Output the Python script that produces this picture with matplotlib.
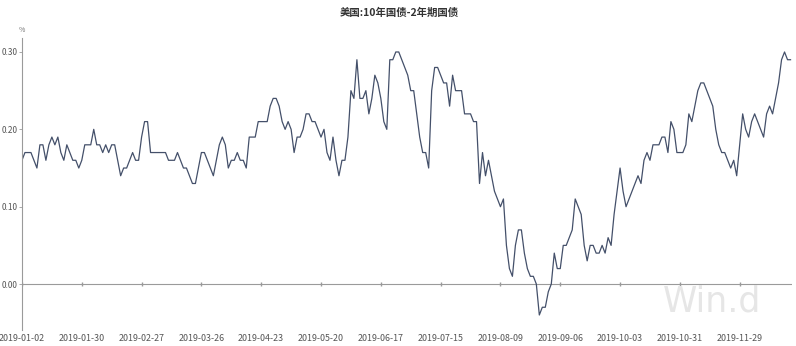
import numpy as np
import matplotlib
matplotlib.use('Agg')
from matplotlib import pyplot as plt

plt.rcParams['font.family'] = ['Noto Sans CJK SC', 'DejaVu Sans']

title = '美国:10年国债-2年期国债'

# spread values (%), one per trading day
spread = [
    0.16, 0.17, 0.17, 0.17, 0.16, 0.15, 0.18, 0.18, 0.16, 0.18,
    0.19, 0.18, 0.19, 0.17, 0.16, 0.18, 0.17, 0.16, 0.16, 0.15,
    0.16, 0.18, 0.18, 0.18, 0.20, 0.18, 0.18, 0.17, 0.18, 0.17,
    0.18, 0.18, 0.16, 0.14, 0.15, 0.15, 0.16, 0.17, 0.16, 0.16,
    0.19, 0.21, 0.21, 0.17, 0.17, 0.17, 0.17, 0.17, 0.17, 0.16,
    0.16, 0.16, 0.17, 0.16, 0.15, 0.15, 0.14, 0.13, 0.13, 0.15,
    0.17, 0.17, 0.16, 0.15, 0.14, 0.16, 0.18, 0.19, 0.18, 0.15,
    0.16, 0.16, 0.17, 0.16, 0.16, 0.15, 0.19, 0.19, 0.19, 0.21,
    0.21, 0.21, 0.21, 0.23, 0.24, 0.24, 0.23, 0.21, 0.20, 0.21,
    0.20, 0.17, 0.19, 0.19, 0.20, 0.22, 0.22, 0.21, 0.21, 0.20,
    0.19, 0.20, 0.17, 0.16, 0.19, 0.16, 0.14, 0.16, 0.16, 0.19,
    0.25, 0.24, 0.29, 0.24, 0.24, 0.25, 0.22, 0.24, 0.27, 0.26,
    0.24, 0.21, 0.20, 0.29, 0.29, 0.30, 0.30, 0.29, 0.28, 0.27,
    0.25, 0.25, 0.22, 0.19, 0.17, 0.17, 0.15, 0.25, 0.28, 0.28,
    0.27, 0.26, 0.26, 0.23, 0.27, 0.25, 0.25, 0.25, 0.22, 0.22,
    0.22, 0.21, 0.21, 0.13, 0.17, 0.14, 0.16, 0.14, 0.12, 0.11,
    0.10, 0.11, 0.05, 0.02, 0.01, 0.05, 0.07, 0.07, 0.04, 0.02,
    0.01, 0.01, 0.00, -0.04, -0.03, -0.03, -0.01, 0.00, 0.04, 0.02,
    0.02, 0.05, 0.05, 0.06, 0.07, 0.11, 0.10, 0.09, 0.05, 0.03,
    0.05, 0.05, 0.04, 0.04, 0.05, 0.04, 0.06, 0.05, 0.09, 0.12,
    0.15, 0.12, 0.10, 0.11, 0.12, 0.13, 0.14, 0.13, 0.16, 0.17,
    0.16, 0.18, 0.18, 0.18, 0.19, 0.19, 0.17, 0.21, 0.20, 0.17,
    0.17, 0.17, 0.18, 0.22, 0.21, 0.23, 0.25, 0.26, 0.26, 0.25,
    0.24, 0.23, 0.20, 0.18, 0.17, 0.17, 0.16, 0.15, 0.16, 0.14,
    0.18, 0.22, 0.20, 0.19, 0.21, 0.22, 0.21, 0.20, 0.19, 0.22,
    0.23, 0.22, 0.24, 0.26, 0.29, 0.30, 0.29, 0.29,
]

date_labels = ['2019-01-02', '2019-01-30', '2019-02-27', '2019-03-26',
               '2019-04-23', '2019-05-20', '2019-06-17', '2019-07-15',
               '2019-08-09', '2019-09-06', '2019-10-03', '2019-10-31',
               '2019-11-29']
y_ticks = [0.00, 0.10, 0.20, 0.30]

fig = plt.figure(figsize=(7.96, 3.46), dpi=100)
ax = fig.add_axes([0.0276, 0.046, 0.9674, 0.844])

x = np.arange(len(spread))
ax.plot(x, spread, color='#44506a', lw=0.9)

tick_pos = np.arange(len(date_labels)) * 20
ax.axhline(0, color='#9a9a9a', lw=0.8, zorder=0)
ax.plot(tick_pos, np.zeros(len(tick_pos)), '|', ms=3, color='#9a9a9a', zorder=0)

ax.set_xlim(0, 257.5)
ax.set_ylim(-0.0595, 0.318)

ax.set_xticks(tick_pos)
ax.set_xticklabels(date_labels)
ax.set_yticks(y_ticks)
ax.set_yticklabels([f'{v:.2f}' for v in y_ticks])
ax.tick_params(axis='x', length=0, pad=3, labelsize=6.4, labelcolor='#555555')
ax.tick_params(axis='y', length=2, width=0.6, color='#9a9a9a', pad=1,
               labelsize=6.0, labelcolor='#555555')

for side in ['top', 'right', 'bottom']:
    ax.spines[side].set_visible(False)
ax.spines['left'].set_color('#9a9a9a')
ax.spines['left'].set_linewidth(0.8)

ax.text(0, 1.015, '%', transform=ax.transAxes, fontsize=5, color='#777777',
        ha='center', va='bottom')
fig.text(0.502, 0.962, title, ha='center', va='center', fontsize=7.5,
         fontweight='bold', color='#333333')
ax.text(0.832, 0.04, 'Win.d', transform=ax.transAxes, fontsize=25,
        color='#e6e6e6', ha='left', va='bottom', family='DejaVu Sans',
        zorder=0)

plt.savefig('out.png', dpi=100)
